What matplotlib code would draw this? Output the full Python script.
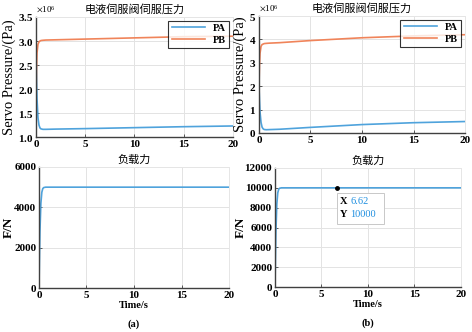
import matplotlib
matplotlib.use("Agg")
import matplotlib.pyplot as plt
from matplotlib.patches import Rectangle
from matplotlib.ticker import ScalarFormatter

plt.rcParams['font.family'] = ['Liberation Serif', 'Noto Sans CJK SC', 'DejaVu Sans']
plt.rcParams['mathtext.fontset'] = 'stix'

# time samples (s)
t = [0, 0.05, 0.1, 0.2, 0.3, 0.4, 0.5, 0.7, 1, 2, 5, 10, 15, 20]

# case (a): servo pressures (Pa)
pa_a = [2.85e6, 2.3e6, 1.8e6, 1.4e6, 1.25e6, 1.19e6, 1.17e6, 1.16e6, 1.16e6,
        1.165e6, 1.175e6, 1.195e6, 1.215e6, 1.23e6]
pb_a = [1.7e6, 2.4e6, 2.75e6, 2.93e6, 2.98e6, 3.0e6, 3.01e6, 3.015e6, 3.02e6,
        3.025e6, 3.04e6, 3.065e6, 3.09e6, 3.1e6]

# case (b): servo pressures (Pa)
pa_b = [2.0e6, 1.4e6, 0.9e6, 0.45e6, 0.25e6, 0.18e6, 0.15e6, 0.14e6, 0.145e6,
        0.16e6, 0.24e6, 0.36e6, 0.44e6, 0.49e6]
pb_b = [2.0e6, 2.9e6, 3.4e6, 3.7e6, 3.78e6, 3.8e6, 3.82e6, 3.83e6, 3.84e6,
        3.86e6, 3.95e6, 4.07e6, 4.15e6, 4.2e6]

# load force (N)
f_a = [0, 1500, 2800, 4200, 4750, 4930, 4980, 5000, 5000, 5000, 5000, 5000, 5000, 5000]
f_b = [0, 3000, 5600, 8400, 9500, 9860, 9960, 10000, 10000, 10000, 10000, 10000, 10000, 10000]

tip_x, tip_y = 6.62, 10000

c_pa = '#4fa3dc'
c_pb = '#f0845a'
spine_c = '#404040'
title_pressure = '电液伺服阀伺服压力'
title_force = '负载力'

fig = plt.figure(figsize=(4.72, 3.32), dpi=100)
ax_tl = fig.add_axes([0.0763, 0.5873, 0.4173, 0.3615])
ax_tr = fig.add_axes([0.5487, 0.5994, 0.4365, 0.3524])
ax_bl = fig.add_axes([0.0826, 0.1325, 0.4026, 0.3645])
ax_br = fig.add_axes([0.5826, 0.1355, 0.3941, 0.3585])


def style(ax):
    ax.grid(True, color='#e3e3e3', linewidth=0.7)
    ax.set_axisbelow(True)
    for s in ['left', 'bottom']:
        ax.spines[s].set_color(spine_c)
        ax.spines[s].set_linewidth(1.0)
    for s in ['top', 'right']:
        ax.spines[s].set_color('#e6e6e6')
        ax.spines[s].set_linewidth(0.7)
    ax.tick_params(direction='in', length=2, width=0.6, color=spine_c,
                   labelsize=8, pad=2)
    for lab in ax.get_xticklabels() + ax.get_yticklabels():
        lab.set_fontweight('bold')
    ax.set_xlim(0, 20)
    ax.set_xticks([0, 5, 10, 15, 20])


def pressure(ax, pa, pb, ylim, yticks):
    ax.plot(t, pa, color=c_pa, linewidth=1.2, label='PA')
    ax.plot(t, pb, color=c_pb, linewidth=1.2, label='PB')
    ax.set_ylim(*ylim)
    ax.set_yticks(yticks)
    fmt = ScalarFormatter(useMathText=True)
    fmt.set_powerlimits((0, 0))
    ax.yaxis.set_major_formatter(fmt)
    ax.yaxis.get_offset_text().set_fontsize(6.5)
    ax.set_title(title_pressure, fontsize=8, pad=3, family=['Noto Sans CJK SC'])
    ax.set_ylabel('Servo Pressure/(Pa)', fontsize=10.5, labelpad=1)
    leg = ax.legend(loc='upper right', frameon=True, fancybox=False,
                    edgecolor='black', handlelength=3.2, borderpad=0.3,
                    labelspacing=0.25, borderaxespad=0.35,
                    prop={'weight': 'bold', 'size': 7.5})
    leg.get_frame().set_linewidth(0.8)
    style(ax)


pressure(ax_tl, pa_a, pb_a, (1e6, 3.5e6), [1e6, 1.5e6, 2e6, 2.5e6, 3e6, 3.5e6])
pressure(ax_tr, pa_b, pb_b, (0, 5e6), [0, 1e6, 2e6, 3e6, 4e6, 5e6])


def force(ax, f, ylim, yticks, tag, label_x):
    ax.plot(t, f, color=c_pa, linewidth=1.2)
    ax.set_ylim(*ylim)
    ax.set_yticks(yticks)
    ax.set_title(title_force, fontsize=8, pad=3, family=['Noto Sans CJK SC'])
    ax.set_ylabel('F/N', fontsize=9.5, fontweight='bold')
    ax.yaxis.set_label_coords(label_x, 0.5)
    ax.set_xlabel('Time/s', fontsize=7.5, fontweight='bold', labelpad=1)
    style(ax)
    ax.text(0.5, -0.3, tag, transform=ax.transAxes, ha='center', va='center',
            fontsize=7.5, fontweight='bold')


force(ax_bl, f_a, (0, 6000), [0, 2000, 4000, 6000], '(a)', -0.125)
force(ax_br, f_b, (0, 12000), [0, 2000, 4000, 6000, 8000, 10000, 12000], '(b)', -0.15)

# data tip
ax_br.plot([tip_x], [tip_y], 'o', color='black', markersize=2.5, zorder=5)
ax_br.add_patch(Rectangle((6.7, 6400), 5.0, 3100, facecolor='white',
                          edgecolor='#c8c8c8', linewidth=0.7, zorder=4))
ax_br.text(7.0, 8650, 'X', fontsize=7.5, fontweight='bold', va='center', zorder=6)
ax_br.text(8.1, 8650, f'{tip_x:.2f}', fontsize=7.5, color='#1f8fe0', va='center', zorder=6)
ax_br.text(7.0, 7300, 'Y', fontsize=7.5, fontweight='bold', va='center', zorder=6)
ax_br.text(8.1, 7300, f'{tip_y:.0f}', fontsize=7.5, color='#1f8fe0', va='center', zorder=6)

fig.savefig('out.png', dpi=100)
